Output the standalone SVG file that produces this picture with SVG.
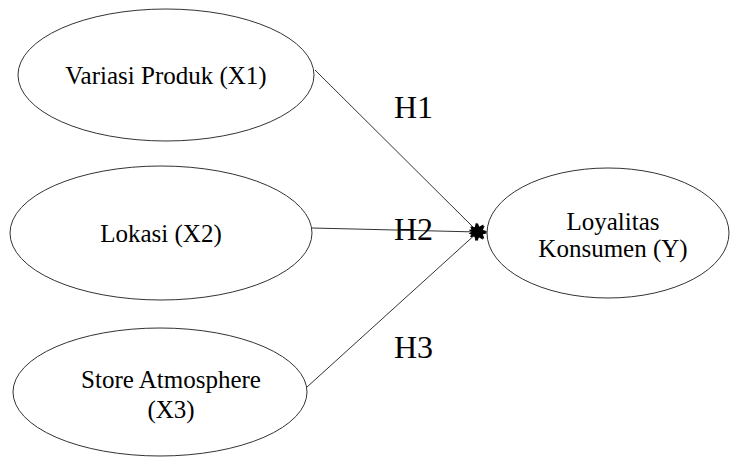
<svg xmlns="http://www.w3.org/2000/svg" width="731" height="457" viewBox="0 0 731 457">
<style>
.node ellipse{fill:#fff;stroke:#333;stroke-width:1}
.edge{stroke:#333;stroke-width:1;fill:none}
</style>
<defs>
<marker id="star" viewBox="-12 -12 24 24" markerWidth="24" markerHeight="24" refX="0" refY="0" markerUnits="userSpaceOnUse" orient="auto">
<polygon points="9,0 4,2.2 6,7 1.2,4.5 -1.5,9 -3,4.5 -8,5 -5,0 -8,-5 -3,-4.5 -1.5,-9 1.2,-4.5 6,-7 4,-2.2" fill="#000"/>
</marker>
</defs>
<rect width="731" height="457" fill="#fff"/>
<g id="connectors">
<line class="edge" x1="315" y1="70" x2="478" y2="232" marker-end="url(#star)"/>
<line class="edge" x1="312" y1="228" x2="478" y2="232" marker-end="url(#star)"/>
<line class="edge" x1="307" y1="387" x2="478" y2="232" marker-end="url(#star)"/>
</g>
<g font-family="Liberation Serif, DejaVu Serif, serif" font-size="25" fill="#000" text-anchor="middle">
<g id="x1" class="node">
<ellipse cx="166" cy="75" rx="148" ry="66"/>
<text x="166" y="84">Variasi Produk (X1)</text>
</g>
<g id="x2" class="node">
<ellipse cx="161" cy="233" rx="151" ry="67"/>
<text x="161" y="242">Lokasi (X2)</text>
</g>
<g id="x3" class="node">
<ellipse cx="160" cy="392" rx="147" ry="64"/>
<text x="171" y="388">Store Atmosphere</text>
<text x="171" y="418">(X3)</text>
</g>
<g id="y" class="node">
<ellipse cx="608" cy="233" rx="121" ry="65"/>
<text x="613" y="230">Loyalitas</text>
<text x="613" y="257">Konsumen (Y)</text>
</g>
</g>
<g id="labels" font-family="Liberation Serif, DejaVu Serif, serif" font-size="32" fill="#000">
<text x="394" y="118">H1</text>
<text x="394" y="240">H2</text>
<text x="394" y="358">H3</text>
</g>
</svg>
